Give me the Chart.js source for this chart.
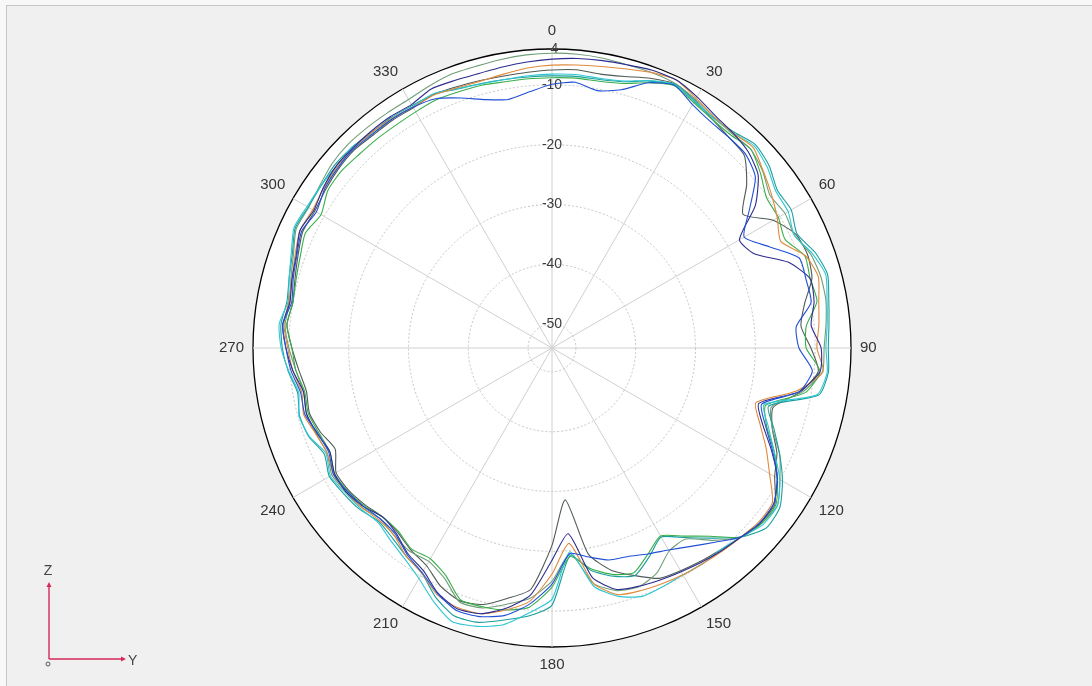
<!DOCTYPE html>
<html>
<head>
<meta charset="utf-8">
<title>Polar pattern</title>
<script src="https://cdn.jsdelivr.net/npm/chart.js@4.4.0/dist/chart.umd.min.js"></script>
<style>
  html, body { margin: 0; padding: 0; background: #f8f8f8; }
  #frame {
    position: absolute; left: 6px; top: 5px; right: 0; bottom: 0;
    border-left: 1px solid #c6c6c6; border-top: 1px solid #c6c6c6;
    background: #f0f0f0;
  }
  #wrap { position: absolute; left: 0; top: 0; width: 1092px; height: 686px; }
  #axes { position: absolute; left: 0; top: 540px; }
</style>
</head>
<body>
<div id="frame"></div>
<div id="wrap"><canvas id="patternChart"></canvas></div>
<svg id="axes" width="200" height="146">
  <line x1="49" y1="119" x2="49" y2="46" stroke="#d6285a" stroke-width="1.4"/>
  <polygon points="49,42 46.5,47 51.5,47" fill="#d6285a"/>
  <line x1="49" y1="119" x2="122" y2="119" stroke="#d6285a" stroke-width="1.4"/>
  <polygon points="126,119 121,116.5 121,121.5" fill="#d6285a"/>
  <circle cx="48" cy="124" r="2" fill="none" stroke="#555" stroke-width="1"/>
  <text x="48" y="35" font-family="Liberation Sans, Arial, sans-serif" font-size="14" fill="#444" text-anchor="middle">Z</text>
  <text x="128" y="125" font-family="Liberation Sans, Arial, sans-serif" font-size="14" fill="#444">Y</text>
</svg>
<script>
// angles in degrees, one sample every 5 degrees
const angles = [0, 5, 10, 15, 20, 25, 30, 35, 40, 45, 50, 55, 60, 65, 70, 75, 80, 85,
  90, 95, 100, 105, 110, 115, 120, 125, 130, 135, 140, 145, 150, 155, 160, 165, 170, 175,
  180, 185, 190, 195, 200, 205, 210, 215, 220, 225, 230, 235, 240, 245, 250, 255, 260, 265,
  270, 275, 280, 285, 290, 295, 300, 305, 310, 315, 320, 325, 330, 335, 340, 345, 350, 355];

const radialTicks = [-50, -40, -30, -20, -10, -4];
const rMin = -54;
const rMax = -4;

// gain in dB
const gainGrayGreen = [-4.7, -4.7, -4.8, -5.0, -5.0, -5.2, -6.0, -6.8, -7.2, -7.0,
  -8.0, -9.5, -9.0, -9.3, -8.0, -7.5, -7.5, -8.0, -8.5, -8.6,
  -11.5, -16.0, -14.8, -12.0, -10.0, -8.0, -8.3, -9.3, -12.0, -15.0,
  -14.8, -12.5, -11.5, -12.0, -14.0, -19.5, -15.0, -12.0, -10.5, -9.0,
  -8.8, -11.5, -12.8, -12.5, -13.0, -13.5, -12.5, -12.0, -11.5, -12.5,
  -12.0, -11.5, -11.8, -11.0, -10.0, -9.2, -9.5, -8.8, -8.0, -6.8,
  -7.0, -6.6, -6.0, -5.8, -5.9, -6.0, -6.0, -5.6, -5.2, -5.2,
  -5.0, -4.8];

const gainNavy = [-5.7, -5.4, -5.2, -5.0, -4.6, -4.6, -5.5, -6.5, -7.0, -7.6,
  -9.0, -12.5, -17.8, -16.7, -12.0, -9.3, -9.5, -10.5, -9.0, -9.0,
  -12.0, -18.2, -16.5, -13.5, -10.5, -8.7, -8.5, -9.3, -9.8, -10.3,
  -10.8, -11.2, -11.6, -12.2, -15.0, -22.8, -18.5, -12.5, -9.8, -8.0,
  -7.6, -8.8, -11.0, -12.0, -13.5, -14.0, -12.8, -12.0, -12.0, -13.0,
  -12.2, -11.5, -11.8, -10.5, -9.5, -8.8, -9.5, -9.0, -8.5, -7.5,
  -8.0, -7.3, -6.8, -6.8, -6.8, -6.8, -7.0, -6.2, -6.4, -6.5,
  -6.3, -6.0];

const gainOrange = [-6.7, -6.5, -6.2, -5.7, -5.0, -4.6, -5.8, -6.8, -7.0, -6.5,
  -7.9, -9.2, -10.5, -11.8, -8.9, -7.9, -8.7, -9.2, -9.7, -8.5,
  -12.5, -18.7, -17.0, -14.5, -12.0, -9.0, -8.8, -9.3, -9.7, -10.0,
  -10.2, -10.5, -10.8, -11.3, -14.0, -21.2, -16.2, -11.5, -9.5, -8.0,
  -7.8, -8.5, -10.5, -11.5, -13.0, -13.2, -12.5, -12.0, -11.8, -12.5,
  -12.0, -11.0, -11.5, -10.5, -9.8, -9.0, -9.3, -9.0, -8.3, -7.5,
  -7.8, -7.4, -7.0, -6.9, -7.0, -7.2, -7.5, -7.3, -7.7, -7.8,
  -7.5, -7.0];

const gainCyan = [-8.2, -8.1, -8.2, -7.8, -6.4, -5.4, -6.3, -7.0, -7.0, -6.2,
  -7.0, -8.3, -8.4, -9.3, -7.7, -6.6, -7.3, -7.8, -8.2, -7.8,
  -9.0, -17.3, -15.5, -13.0, -10.0, -8.0, -8.0, -9.3, -10.0, -10.0,
  -10.2, -10.0, -9.8, -11.0, -13.5, -19.8, -12.0, -9.5, -7.0, -5.8,
  -5.3, -7.2, -9.5, -11.0, -12.0, -12.8, -12.2, -11.8, -11.2, -12.3,
  -10.8, -10.2, -11.0, -9.8, -8.7, -8.2, -9.2, -8.5, -7.6, -6.4,
  -6.7, -6.8, -6.8, -6.6, -7.2, -7.2, -7.4, -7.1, -7.8, -8.3,
  -8.4, -8.3];

const gainGreen = [-8.8, -8.7, -8.7, -8.2, -6.8, -5.6, -6.6, -7.3, -7.5, -7.0,
  -8.5, -10.2, -10.3, -11.0, -9.0, -9.3, -9.0, -11.3, -11.5, -9.0,
  -11.0, -17.0, -15.8, -13.0, -10.5, -8.3, -8.3, -9.3, -12.9, -15.6,
  -17.7, -16.0, -14.0, -14.8, -16.5, -19.0, -14.0, -10.5, -9.5, -9.2,
  -9.2, -12.0, -13.3, -13.0, -14.0, -14.0, -13.0, -12.3, -12.0, -13.0,
  -12.5, -11.8, -12.0, -11.0, -10.5, -9.5, -10.0, -9.7, -9.2, -8.5,
  -9.4, -8.2, -8.0, -8.3, -8.4, -8.5, -8.4, -8.2, -8.4, -8.5,
  -8.8, -8.8];

const gainTeal = [-8.5, -8.4, -8.4, -7.9, -6.5, -5.4, -6.4, -7.0, -6.8, -5.9,
  -6.6, -8.0, -7.8, -8.8, -7.2, -6.3, -7.0, -7.5, -7.8, -7.6,
  -8.7, -16.5, -14.5, -12.0, -9.5, -7.5, -7.2, -9.3, -12.5, -15.3,
  -17.5, -15.5, -13.5, -14.5, -16.2, -19.2, -11.0, -9.0, -7.8, -6.5,
  -6.3, -8.0, -10.5, -11.5, -12.5, -13.0, -12.0, -11.5, -11.0, -12.0,
  -10.7, -10.3, -10.8, -9.7, -8.9, -8.5, -9.0, -8.5, -7.8, -6.6,
  -6.9, -6.8, -6.5, -6.6, -7.0, -7.0, -7.2, -7.2, -7.9, -8.2,
  -8.4, -8.5];

const gainBlue = [-9.9, -9.4, -10.3, -9.3, -6.8, -5.5, -7.0, -7.8, -8.0, -8.2,
  -9.6, -13.7, -16.9, -13.9, -10.0, -10.0, -10.0, -13.0, -12.7, -10.3,
  -12.0, -17.7, -16.0, -13.3, -10.5, -8.7, -8.6, -9.3, -11.6, -13.5,
  -15.0, -16.0, -16.9, -17.3, -18.5, -19.5, -14.5, -11.0, -8.6, -7.5,
  -7.3, -8.7, -10.6, -11.8, -13.3, -13.5, -12.8, -12.2, -11.8, -12.8,
  -12.3, -11.2, -11.3, -10.2, -9.5, -8.8, -9.8, -9.2, -8.6, -7.8,
  -8.5, -7.6, -7.2, -7.0, -7.3, -7.3, -7.5, -8.0, -9.5, -11.0,
  -11.8, -11.0];

const gainDarkGray = [-7.5, -7.3, -7.5, -7.0, -6.0, -5.3, -6.2, -7.3, -8.0, -8.5,
  -11.5, -15.0, -11.3, -9.0, -8.5, -9.0, -11.1, -12.2, -10.7, -9.3,
  -11.8, -15.7, -14.8, -12.5, -11.0, -8.5, -8.5, -9.3, -10.0, -10.5,
  -11.0, -11.5, -13.5, -15.5, -19.0, -28.5, -21.0, -13.5, -11.5, -9.6,
  -9.0, -10.0, -12.0, -12.8, -13.8, -14.0, -13.2, -12.5, -12.3, -14.0,
  -12.8, -12.0, -12.3, -11.5, -10.5, -9.5, -10.0, -9.5, -8.8, -8.0,
  -8.2, -7.8, -7.4, -7.2, -7.5, -7.5, -7.6, -7.2, -7.5, -7.7,
  -7.8, -7.7];

const seriesList = [
  { data: gainBlue, color: '#2150d6' },
  { data: gainNavy, color: '#2c2c8e' },
  { data: gainOrange, color: '#e08a3c' },
  { data: gainCyan, color: '#2ec6d2' },
  { data: gainGreen, color: '#3aae4c' },
  { data: gainTeal, color: '#1a9e9c' },
  { data: gainGrayGreen, color: '#6f9f78' },
  { data: gainDarkGray, color: '#4e5a55' }
];

Chart.defaults.font.family = '"Liberation Sans", Arial, sans-serif';

function isOuter(c) {
  return c && c.tick && c.tick.value === rMax;
}

document.addEventListener('DOMContentLoaded', function() {
  const ctx = document.getElementById('patternChart').getContext('2d');

  new Chart(ctx, {
    type: 'radar',
    data: {
      labels: angles,
      datasets: seriesList.map(s => ({
        data: s.data,
        borderColor: s.color,
        backgroundColor: 'transparent',
        borderWidth: 1.1,
        pointRadius: 0,
        fill: false,
        tension: 0.2
      }))
    },
    options: {
      animation: false,
      responsive: true,
      maintainAspectRatio: false,
      layout: { padding: { left: 12, right: 0, top: 22, bottom: 11 } },
      plugins: {
        legend: { display: false },
        tooltip: { enabled: false }
      },
      scales: {
        r: {
          min: rMin,
          max: rMax,
          backgroundColor: '#ffffff',
          afterBuildTicks: scale => {
            scale.ticks = radialTicks.map(v => ({ value: v }));
          },
          ticks: {
            color: '#3c3c3c',
            font: { size: 14 },
            showLabelBackdrop: false,
            callback: v => String(v)
          },
          grid: {
            circular: true,
            color: c => isOuter(c) ? '#000000' : '#c6c6c6',
            lineWidth: c => isOuter(c) ? 1.3 : 1
          },
          border: {
            dash: c => isOuter(c) ? [] : [2, 2]
          },
          angleLines: {
            color: '#d0d0d0',
            lineWidth: c => c.index % 6 === 0 ? 1 : 0
          },
          pointLabels: {
            display: true,
            padding: 0,
            color: '#333333',
            font: { size: 15 },
            callback: label => label % 30 === 0 ? String(label) : ''
          }
        }
      }
    }
  });
});
</script>
</body>
</html>
